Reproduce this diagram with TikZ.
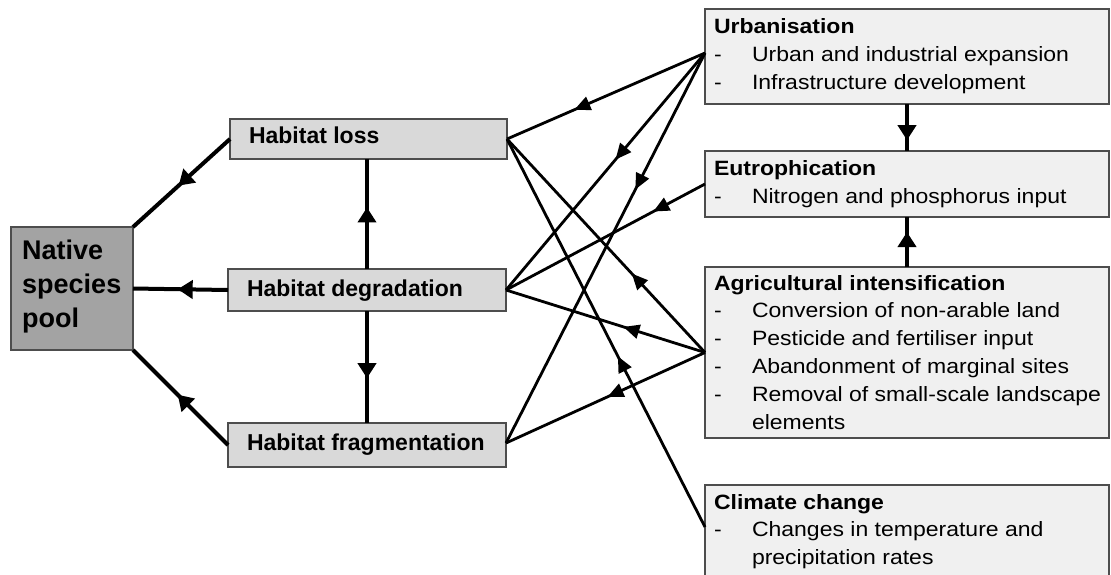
\documentclass[tikz,border=0pt]{standalone}
\usepackage{fontspec}
\usepackage{graphicx}
\setmainfont{Liberation Sans}
\usetikzlibrary{arrows.meta,decorations.markings}
\definecolor{darkbox}{HTML}{A3A3A3}
\definecolor{midbox}{HTML}{D9D9D9}
\definecolor{lightbox}{HTML}{F0F0F0}
\definecolor{edgecol}{HTML}{4D4D4D}
\newcommand{\squash}[1]{\scalebox{1}[0.9]{#1}}
\tikzset{
  box/.style={draw=edgecol, line width=1.3pt, rectangle, inner sep=0pt, outer sep=0pt},
  lbl/.style={inner sep=0pt, outer sep=0pt, anchor=base west, font=\bfseries\fontsize{23}{28}\selectfont},
  rtxt/.style={inner sep=0pt, outer sep=0pt, anchor=north west, font=\fontsize{23}{31.1}\selectfont},
  midthick/.style={line width=4pt, postaction={decorate}, decoration={markings,
      mark=at position #1 with {\arrow{Triangle[length=15pt,width=18pt]}}}},
  midthin/.style={line width=2.8pt, postaction={decorate}, decoration={markings,
      mark=at position #1 with {\arrow{Triangle[length=16pt,width=14pt]}}}}
}
\begin{document}
\begin{tikzpicture}[x=1pt,y=-1pt]
\clip (0,0) rectangle (1111,574);
\useasboundingbox (0,0) rectangle (1111,574);
% boxes
\node[box, fill=darkbox, minimum width=122pt, minimum height=123pt] (native) at (72,288.5) {};
\node[box, fill=midbox, minimum width=277pt, minimum height=40pt] (loss) at (368.5,139) {};
\node[box, fill=midbox, minimum width=278pt, minimum height=42pt] (deg) at (367,290) {};
\node[box, fill=midbox, minimum width=278pt, minimum height=44pt] (frag) at (367,445) {};
\node[box, fill=lightbox, minimum width=404pt, minimum height=95pt] (urb) at (907,56.5) {};
\node[box, fill=lightbox, minimum width=404pt, minimum height=66pt] (eut) at (907,184) {};
\node[box, fill=lightbox, minimum width=404pt, minimum height=171pt] (agr) at (907,352.5) {};
\node[box, fill=lightbox, minimum width=404pt, minimum height=120pt] (cli) at (907,545) {};
% texts
\node[inner sep=0pt, anchor=north west, font=\bfseries\fontsize{27}{34}\selectfont] (nativetext) at (22,235.2)
  {\begin{tabular}{@{}l@{}}Native\\species\\pool\end{tabular}};
\node[lbl] (losstext) at (249,143) {Habitat loss};
\node[lbl] (degtext) at (247,296) {Habitat degradation};
\node[lbl] (fragtext) at (247,450) {Habitat fragmentation};
\node[rtxt] (urbtext) at (714,14.4) {\squash{\begin{tabular}{@{}p{38pt}@{}l@{}}
  \multicolumn{2}{@{}l@{}}{\textbf{Urbanisation}}\\
  -& Urban and industrial expansion\\
  -& Infrastructure development\end{tabular}}};
\node[rtxt] (euttext) at (714,156.4) {\squash{\begin{tabular}{@{}p{38pt}@{}l@{}}
  \multicolumn{2}{@{}l@{}}{\textbf{Eutrophication}}\\
  -& Nitrogen and phosphorus input\end{tabular}}};
\node[rtxt] (agrtext) at (714,270.4) {\squash{\begin{tabular}{@{}p{38pt}@{}l@{}}
  \multicolumn{2}{@{}l@{}}{\textbf{Agricultural intensification}}\\
  -& Conversion of non-arable land\\
  -& Pesticide and fertiliser input\\
  -& Abandonment of marginal sites\\
  -& Removal of small-scale landscape\\
   & elements\end{tabular}}};
\node[rtxt] (clitext) at (714,489.4) {\squash{\begin{tabular}{@{}p{38pt}@{}l@{}}
  \multicolumn{2}{@{}l@{}}{\textbf{Climate change}}\\
  -& Changes in temperature and\\
   & precipitation rates\end{tabular}}};
% thick connectors
\draw[midthick=0.53] (loss.west) -- (native.north east);
\draw[midthick=0.53] (deg.west) -- (native.east);
\draw[midthick=0.53] (frag.west) -- (native.south east);
\draw[midthick=0.56] (deg.north) -- (deg.north |- loss.south);
\draw[midthick=0.6] (deg.south) -- (deg.south |- frag.north);
\draw[midthick=0.77] (urb.south) -- (eut.north);
\draw[midthick=0.7] (agr.north) -- (eut.south);
% thin connectors
\coordinate (urbw) at ([yshift=3.5pt]urb.west);
\coordinate (cliw) at ([yshift=-42pt]cli.north west);
\draw[midthin=0.66] (urbw) -- (loss.east);
\draw[midthin=0.45] (urbw) -- (deg.east);
\draw[midthin=0.35] (urbw) -- ([yshift=2pt]frag.east);
\draw[midthin=0.26] (eut.west) -- (deg.east);
\draw[midthin=0.37] (agr.west) -- (loss.east);
\draw[midthin=0.41] (agr.west) -- (deg.east);
\draw[midthin=0.49] (agr.west) -- ([yshift=2pt]frag.east);
\draw[midthin=0.44] (cliw) -- (loss.east);
\end{tikzpicture}
\end{document}
